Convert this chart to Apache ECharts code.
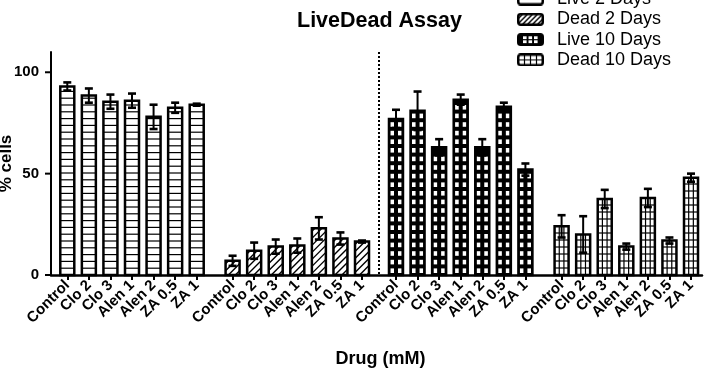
<!DOCTYPE html>
<html><head><meta charset="utf-8">
<script src="https://cdn.jsdelivr.net/npm/echarts@6/dist/echarts.min.js"></script>
<style>html,body{margin:0;padding:0;background:#fff}#c{width:709px;height:374px}</style>
</head><body><div id="c"></div>
<script>
// ---- data ----
const categories = ['Control', 'Clo 2', 'Clo 3', 'Alen 1', 'Alen 2', 'ZA 0.5', 'ZA 1'];
const seriesNames = ['Live 2 Days', 'Dead 2 Days', 'Live 10 Days', 'Dead 10 Days'];
const live2 = [93, 88.5, 85.5, 86, 78, 82.5, 84];
const live2Err = [2, 3.5, 3.5, 3.5, 6, 2.5, 0.5];
const dead2 = [7, 12, 14, 14.5, 23, 18, 16.5];
const dead2Err = [2.5, 4, 3.5, 3.5, 5.5, 3, 0.5];
const live10 = [77, 81, 63, 86.5, 63, 83, 52];
const live10Err = [4.5, 9.5, 4, 2.5, 4, 2, 3];
const dead10 = [24, 20, 37.5, 14, 38, 17, 48];
const dead10Err = [5.5, 9, 4.5, 1.5, 4.5, 1.5, 2];
const yTicks = [0, 50, 100];
const Y_MAX = 110;

// ---- layout ----
const FONT = '"Liberation Sans", Arial, Helvetica, sans-serif';
const H_TOTAL = 374;
const AXIS_LEFT = 51;
const GRID_TOP = 52, GRID_BOTTOM = 99;
const GROUP_LEFT = [56.5, 221.8, 385.2, 550.8];
const GROUP_WIDTH = 151;
const BAR_W = 14;
const TICK_LEN = 6;
const kinds = ['live2', 'dead2', 'live10', 'dead10'];
const values = [live2, dead2, live10, dead10];
const errs = [live2Err, dead2Err, live10Err, dead10Err];

function renderer(kind) {
  return function (params, api) {
    const i = api.value(0), v = api.value(1), e = api.value(2);
    const pTop = api.coord([i, v]), pBase = api.coord([i, 0]);
    const cx = pTop[0], w = BAR_W, x0 = cx - w / 2, x1 = cx + w / 2;
    const y0 = pTop[1], y1 = pBase[1], h = y1 - y0;
    const ch = [];
    ch.push({ type: 'rect', shape: { x: x0, y: y0, width: w, height: h }, style: { fill: kind === 'live10' ? '#000' : '#fff' } });
    const ls = { stroke: '#000', lineWidth: 1.2, fill: null };
    if (kind === 'live2') {
      for (let y = y1 - 6.8; y > y0 + 1; y -= 6.8)
        ch.push({ type: 'line', shape: { x1: x0, y1: y, x2: x1, y2: y }, style: ls });
    } else if (kind === 'dead2') {
      const step = 7;
      for (let c = x0 + y0 + 3; c < x1 + y1; c += step) {
        const xa = Math.max(x0, c - y1), xb = Math.min(x1, c - y0);
        if (xb > xa) ch.push({ type: 'line', shape: { x1: xa, y1: c - xa, x2: xb, y2: c - xb }, style: { stroke: '#000', lineWidth: 1.4 } });
      }
    } else if (kind === 'live10') {
      const P = 8.6, sh = 4.6, sw = 3.6;
      for (let y = y1 - 2; y - sh > y0 + 2; y -= P) {
        [-3.8, 3.8].forEach(function (dx) {
          ch.push({ type: 'rect', shape: { x: cx + dx - sw / 2, y: y - sh, width: sw, height: sh }, style: { fill: '#fff' } });
        });
      }
    } else if (kind === 'dead10') {
      [x0 + w / 3, x0 + 2 * w / 3].forEach(function (x) {
        ch.push({ type: 'line', shape: { x1: x, y1: y0, x2: x, y2: y1 }, style: ls });
      });
      for (let y = y1 - 7; y > y0 + 1; y -= 7)
        ch.push({ type: 'line', shape: { x1: x0, y1: y, x2: x1, y2: y }, style: ls });
    }
    ch.push({ type: 'rect', shape: { x: x0, y: y0, width: w, height: h }, style: { fill: null, stroke: '#000', lineWidth: 2.5 } });
    const pHi = api.coord([i, v + e]), pLo = api.coord([i, v - e]);
    const es = { stroke: '#000', lineWidth: 2, fill: null };
    const cs = { stroke: '#000', lineWidth: 2.6, fill: null };
    ch.push({ type: 'line', shape: { x1: cx, y1: pHi[1], x2: cx, y2: pLo[1] }, style: es });
    ch.push({ type: 'line', shape: { x1: cx - 4, y1: pHi[1], x2: cx + 4, y2: pHi[1] }, style: cs });
    ch.push({ type: 'line', shape: { x1: cx - 4, y1: pLo[1], x2: cx + 4, y2: pLo[1] }, style: cs });
    return { type: 'group', children: ch };
  };
}

function iconURL(kind) {
  const W = 27, H = 13;
  const cv = document.createElement('canvas'); cv.width = W; cv.height = H;
  const g = cv.getContext('2d');
  const r = 2.5, x0 = 1.25, y0 = 1.25, x1 = W - 1.25, y1 = H - 1.25;
  function path() {
    g.beginPath();
    g.moveTo(x0 + r, y0); g.lineTo(x1 - r, y0); g.arcTo(x1, y0, x1, y0 + r, r);
    g.lineTo(x1, y1 - r); g.arcTo(x1, y1, x1 - r, y1, r); g.lineTo(x0 + r, y1);
    g.arcTo(x0, y1, x0, y1 - r, r); g.lineTo(x0, y0 + r); g.arcTo(x0, y0, x0 + r, y0, r); g.closePath();
  }
  path(); g.fillStyle = kind === 'live10' ? '#000' : '#fff'; g.fill();
  g.save(); path(); g.clip();
  g.strokeStyle = '#000'; g.fillStyle = '#fff'; g.lineWidth = 1.2;
  if (kind === 'live2') {
    g.beginPath(); g.moveTo(0, H / 2); g.lineTo(W, H / 2); g.stroke();
  } else if (kind === 'dead2') {
    g.lineWidth = 1.4;
    for (let c = 2; c < W + H; c += 5) { g.beginPath(); g.moveTo(c, 0); g.lineTo(c - H, H); g.stroke(); }
  } else if (kind === 'live10') {
    [6, 11.5, 17].forEach(function (x) { [3.2, 7.2].forEach(function (y) { g.fillRect(x, y, 3.6, 2.8); }); });
  } else {
    [7.5, 13.5, 19.5].forEach(function (x) { g.beginPath(); g.moveTo(x, 0); g.lineTo(x, H); g.stroke(); });
    g.beginPath(); g.moveTo(0, H / 2); g.lineTo(W, H / 2); g.stroke();
  }
  g.restore();
  path(); g.lineWidth = 2.5; g.strokeStyle = '#000'; g.stroke();
  return cv.toDataURL();
}

const chart = echarts.init(document.getElementById('c'), null, { renderer: 'canvas' });

const noBounds = { containLabel: false, outerBoundsMode: 'none' };
const grids = [Object.assign({ left: AXIS_LEFT, right: 7, top: GRID_TOP, bottom: GRID_BOTTOM }, noBounds)];
const xAxes = [{
  gridIndex: 0, type: 'value', min: 0, max: 1,
  axisLine: { show: true, lineStyle: { color: '#000', width: 2.5 } },
  axisTick: { show: false }, axisLabel: { show: false }, splitLine: { show: false },
  name: 'Drug (mM)', nameLocation: 'middle', nameGap: 75, nameMoveOverlap: false,
  nameTextStyle: { fontFamily: FONT, fontWeight: 'bold', fontSize: 18, color: '#000', padding: [0, 0, 0, 8] }
}];
const yAxes = [{
  gridIndex: 0, type: 'value', min: 0, max: Y_MAX, interval: 50,
  axisLine: { show: true, lineStyle: { color: '#000', width: 2 } },
  axisTick: { show: false },
  axisLabel: { fontFamily: FONT, fontWeight: 'bold', fontSize: 15, color: '#000', margin: 12, customValues: yTicks },
  splitLine: { show: false },
  name: '% cells', nameLocation: 'middle', nameGap: 36, nameRotate: 90, nameMoveOverlap: false,
  nameTextStyle: { fontFamily: FONT, fontWeight: 'bold', fontSize: 17, color: '#000' }
}];
const series = [];
for (let g = 0; g < 4; g++) {
  grids.push(Object.assign({ left: GROUP_LEFT[g], width: GROUP_WIDTH, top: GRID_TOP, bottom: GRID_BOTTOM }, noBounds));
  xAxes.push({
    gridIndex: g + 1, type: 'category', data: categories,
    axisLine: { show: false },
    axisTick: { show: true, alignWithLabel: true, length: 5, lineStyle: { color: '#000', width: 2 } },
    axisLabel: { rotate: 45, interval: 0, margin: 8, fontFamily: FONT, fontWeight: 'bold', fontSize: 15, color: '#000' }
  });
  yAxes.push({ gridIndex: g + 1, type: 'value', min: 0, max: Y_MAX, show: false });
  series.push({
    name: seriesNames[g], type: 'custom', xAxisIndex: g + 1, yAxisIndex: g + 1,
    renderItem: renderer(kinds[g]), encode: { x: 0, y: 1 }, clip: false,
    data: categories.map(function (c, i) { return [i, values[g][i], errs[g][i]]; })
  });
}

const dashX = (GROUP_LEFT[1] + GROUP_WIDTH + GROUP_LEFT[2]) / 2;
chart.setOption({
  animation: false,
  backgroundColor: '#fff',
  title: {
    text: 'LiveDead Assay', left: 292, top: 5,
    textStyle: { fontFamily: FONT, fontWeight: 'bold', fontSize: 21.5, color: '#000' }
  },
  legend: {
    orient: 'vertical', left: 517, top: -11, padding: 0, itemGap: 0.3,
    itemWidth: 27, itemHeight: 13, selectedMode: false,
    textStyle: { fontFamily: FONT, fontSize: 18, color: '#000', lineHeight: 20, padding: [0, 0, 0, 8] },
    data: seriesNames.map(function (n, k) { return { name: n, icon: 'image://' + iconURL(kinds[k]) }; })
  },
  grid: grids, xAxis: xAxes, yAxis: yAxes, series: series,
  graphic: [{
    id: 'divider', type: 'line', silent: true,
    shape: { x1: dashX, y1: GRID_TOP, x2: dashX, y2: H_TOTAL - GRID_BOTTOM },
    style: { stroke: '#000', lineWidth: 2, lineDash: [2, 2] }
  }]
});

// y-axis tick marks, placed through the axis scale
const plotH = H_TOTAL - GRID_TOP - GRID_BOTTOM;
const tickEls = yTicks.map(function (v, k) {
  let p = chart.convertToPixel({ gridIndex: 0 }, [0, v]);
  let x = p && isFinite(p[0]) ? p[0] : AXIS_LEFT;
  let y = p && isFinite(p[1]) ? p[1] : GRID_TOP + plotH * (1 - v / Y_MAX);
  return {
    id: 'ytick' + k, type: 'rect', silent: true, z: 100, zlevel: 0,
    shape: { x: x - TICK_LEN, y: y - 1, width: TICK_LEN, height: 2 },
    style: { fill: '#000' }
  };
});
chart.setOption({ graphic: tickEls });
</script></body></html>
